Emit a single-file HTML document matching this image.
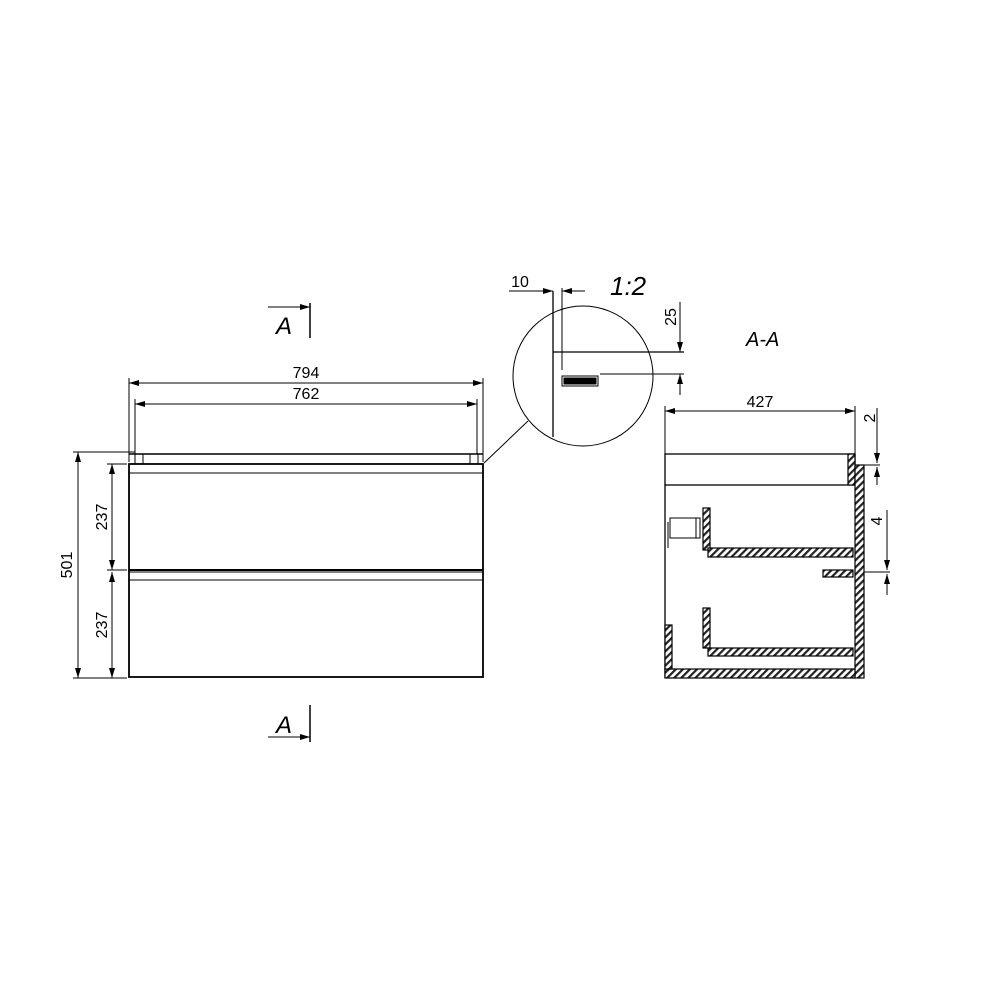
<!DOCTYPE html>
<html><head><style>html,body{margin:0;background:#fff}svg{display:block}</style></head>
<body>
<svg width="1000" height="1000" viewBox="0 0 1000 1000" xmlns="http://www.w3.org/2000/svg" font-family="Liberation Sans, sans-serif">
<defs>
<pattern id="h" width="5" height="5" patternUnits="userSpaceOnUse" patternTransform="rotate(45)">
<rect width="5" height="5" fill="#fff"/><rect width="2.2" height="5" fill="#222"/></pattern>
<marker id="a" markerWidth="10" markerHeight="6" refX="10" refY="3" orient="auto-start-reverse" markerUnits="userSpaceOnUse"><path d="M0,0 L10,3 L0,6z" fill="#000"/></marker>
</defs>
<g stroke="#000" fill="none" stroke-width="1">
<rect x="129" y="464" width="354" height="213" stroke-width="1.8"/>
<line x1="129" y1="454" x2="483" y2="454" stroke-width="1.5"/>
<rect x="135" y="454" width="8" height="10"/><rect x="470" y="454" width="8" height="10"/>
<line x1="129" y1="473" x2="483" y2="473"/>
<line x1="129" y1="570" x2="483" y2="570" stroke-width="2"/>
<line x1="129" y1="572" x2="483" y2="572"/>
<line x1="129" y1="580" x2="483" y2="580"/>
<line x1="129" y1="378" x2="129" y2="462"/><line x1="483" y1="378" x2="483" y2="462"/>
<line x1="135" y1="399" x2="135" y2="454"/><line x1="477" y1="399" x2="477" y2="454"/>
<line x1="129" y1="383" x2="483" y2="383" marker-start="url(#a)" marker-end="url(#a)"/>
<line x1="135" y1="404" x2="477" y2="404" marker-start="url(#a)" marker-end="url(#a)"/>
<line x1="73" y1="452" x2="135" y2="452"/><line x1="73" y1="678" x2="127" y2="678"/>
<line x1="107" y1="464" x2="127" y2="464"/><line x1="107" y1="570" x2="127" y2="570"/>
<line x1="78" y1="452" x2="78" y2="678" marker-start="url(#a)" marker-end="url(#a)"/>
<line x1="112" y1="464" x2="112" y2="570" marker-start="url(#a)" marker-end="url(#a)"/>
<line x1="112" y1="572" x2="112" y2="678" marker-start="url(#a)" marker-end="url(#a)"/>
<line x1="268" y1="307" x2="310" y2="307" marker-end="url(#a)"/><line x1="310" y1="303" x2="310" y2="338" stroke-width="1.5"/>
<line x1="268" y1="737" x2="310" y2="737" marker-end="url(#a)"/><line x1="310" y1="705" x2="310" y2="742" stroke-width="1.5"/>
<circle cx="583" cy="376" r="70"/>
<line x1="528" y1="421" x2="484" y2="463"/>
<line x1="553" y1="291" x2="553" y2="437" stroke-width="1.3"/>
<line x1="562" y1="288" x2="562" y2="370"/>
<line x1="553" y1="352" x2="684" y2="352" stroke-width="1.3"/>
<line x1="600" y1="374" x2="684" y2="374"/>
<rect x="562" y="376" width="36" height="10"/>
<rect x="564" y="378" width="32" height="6" fill="#000"/>
<line x1="509" y1="291" x2="553" y2="291" marker-end="url(#a)"/>
<line x1="585" y1="291" x2="562" y2="291" marker-end="url(#a)"/>
<line x1="680" y1="302" x2="680" y2="352" marker-end="url(#a)"/>
<line x1="680" y1="395" x2="680" y2="374" marker-end="url(#a)"/>
<line x1="665" y1="406" x2="665" y2="454"/><line x1="855" y1="406" x2="855" y2="454"/>
<line x1="665" y1="411" x2="855" y2="411" marker-start="url(#a)" marker-end="url(#a)"/>
<rect x="665" y="454" width="190" height="31" stroke-width="1.3"/>
<line x1="665" y1="485" x2="665" y2="678" stroke-width="1.3"/>
<g fill="url(#h)" stroke-width="1.2">
<rect x="848" y="454" width="7" height="31"/>
<rect x="855" y="465" width="9" height="213"/>
<rect x="665" y="669" width="190" height="9"/>
<rect x="665" y="625" width="7" height="44"/>
<rect x="703" y="508" width="7" height="42"/>
<rect x="708" y="548" width="145" height="9"/>
<rect x="703" y="608" width="7" height="40"/>
<rect x="708" y="648" width="145" height="8"/>
<rect x="823" y="570" width="30" height="7"/>
</g>
<rect x="670" y="518" width="30" height="20"/>
<line x1="696" y1="518" x2="696" y2="538"/>
<line x1="668" y1="522" x2="668" y2="548"/>
<line x1="864" y1="465" x2="880" y2="465"/><line x1="864" y1="572" x2="890" y2="572"/>
<line x1="877" y1="408" x2="877" y2="463" marker-end="url(#a)"/>
<line x1="877" y1="485" x2="877" y2="467" marker-end="url(#a)"/>
<line x1="887" y1="510" x2="887" y2="570" marker-end="url(#a)"/>
<line x1="887" y1="595" x2="887" y2="574" marker-end="url(#a)"/>
</g>
<g font-size="16" text-anchor="middle" fill="#000">
<text x="306" y="378">794</text>
<text x="306" y="399">762</text>
<text transform="translate(72,565) rotate(-90)">501</text>
<text transform="translate(107,517) rotate(-90)">237</text>
<text transform="translate(107,625) rotate(-90)">237</text>
<text x="520" y="287">10</text>
<text transform="translate(676,317) rotate(-90)">25</text>
<text x="760" y="407">427</text>
<text transform="translate(875,418) rotate(-90)">2</text>
<text transform="translate(882,521) rotate(-90)">4</text>
</g>
<g font-style="italic" font-size="24" fill="#000">
<text x="276" y="334">A</text>
<text x="276" y="733">A</text>
<text x="610" y="295" font-size="26">1:2</text>
<text x="746" y="346" font-size="20">A-A</text>
</g>
</svg>
</body></html>
